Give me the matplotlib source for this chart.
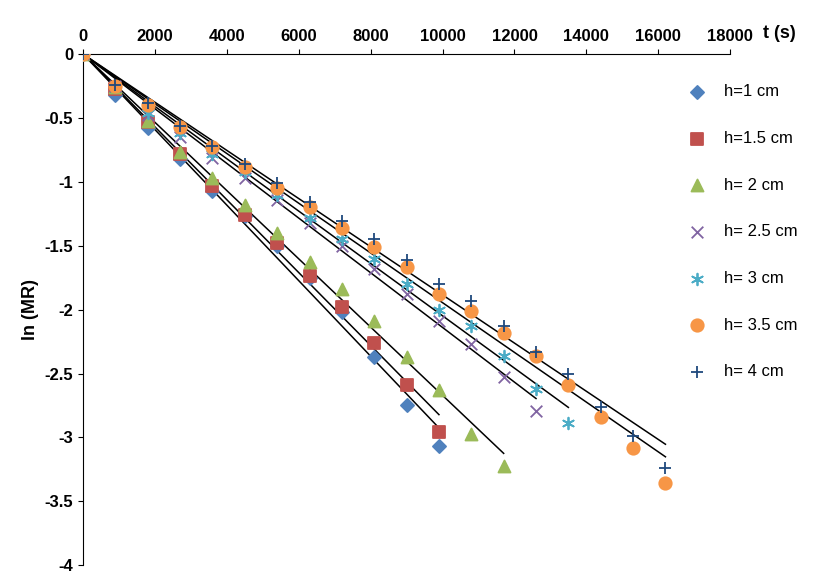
import numpy as np
import matplotlib
matplotlib.use('Agg')
import matplotlib.pyplot as plt

plt.rcParams['font.family'] = ['Liberation Sans', 'DejaVu Sans']

labels = ['h=1 cm', 'h=1.5 cm', 'h= 2 cm', 'h= 2.5 cm', 'h= 3 cm', 'h= 3.5 cm', 'h= 4 cm']
y_h1 = [0, -0.32, -0.58, -0.82, -1.07, -1.27, -1.50, -1.75, -2.02, -2.37, -2.75, -3.07]
y_h15 = [0, -0.27, -0.53, -0.78, -1.03, -1.26, -1.48, -1.74, -1.98, -2.26, -2.59, -2.96]
y_h2 = [0, -0.26, -0.52, -0.77, -0.97, -1.18, -1.40, -1.63, -1.84, -2.09, -2.37, -2.63, -2.97, -3.22]
y_h25 = [0, -0.25, -0.48, -0.65, -0.81, -0.97, -1.14, -1.32, -1.50, -1.68, -1.88, -2.09, -2.27,
         -2.53, -2.79]
y_h3 = [0, -0.25, -0.46, -0.62, -0.78, -0.92, -1.10, -1.28, -1.45, -1.60, -1.80, -2.00, -2.13,
        -2.36, -2.62, -2.89]
y_h35 = [0, -0.25, -0.40, -0.57, -0.73, -0.88, -1.05, -1.20, -1.36, -1.51, -1.67, -1.88, -2.01,
         -2.18, -2.36, -2.59, -2.84, -3.08, -3.36]
y_h4 = [0, -0.24, -0.38, -0.56, -0.72, -0.86, -1.01, -1.16, -1.31, -1.45, -1.61, -1.80, -1.93,
        -2.13, -2.33, -2.50, -2.76, -2.99, -3.24]
series = [y_h1, y_h15, y_h2, y_h25, y_h3, y_h35, y_h4]
dt = 900

colors = ['#4F81BD', '#C0504D', '#9BBB59', '#8064A2', '#4BACC6', '#F79646', '#1F497D']
markers = ['D', 's', '^', 'x', (6, 2, 0), 'o', '+']
sizes = [45, 80, 75, 70, 70, 80, 80]

fig = plt.figure(figsize=(8.14, 5.75), dpi=100)
ax = fig.add_axes([0.102, 0.017, 0.795, 0.889])

for y, lab, c, m, s in zip(series, labels, colors, markers, sizes):
    t = np.arange(len(y)) * dt
    ax.scatter(t, y, marker=m, s=s, color=c, label=lab, zorder=3, linewidths=1.3)
    k = np.sum(t * np.array(y)) / np.sum(t * t)
    ax.plot([0, t[-1]], [0, k * t[-1]], color='black', lw=1.1, zorder=2)

ax.set_xlim(0, 18000)
ax.set_ylim(-4, 0)
ax.set_xticks(np.arange(0, 18001, 2000))
ax.set_yticks(np.arange(-4, 0.01, 0.5))
ax.set_yticklabels(['-4', '-3.5', '-3', '-2.5', '-2', '-1.5', '-1', '-0.5', '0'])
ax.xaxis.tick_top()
ax.spines['right'].set_visible(False)
ax.spines['bottom'].set_visible(False)
ax.tick_params(labelsize=12, direction='out')
for lbl in ax.get_xticklabels() + ax.get_yticklabels():
    lbl.set_fontweight('bold')
ax.set_ylabel('ln (MR)', fontsize=13, fontweight='bold')
ax.text(1.05, 1.04, 't (s)', transform=ax.transAxes, fontsize=13, fontweight='bold',
        ha='left', va='center')

ax.legend(loc='upper left', bbox_to_anchor=(0.9, 0.97), frameon=False, fontsize=12,
          labelspacing=1.9, handletextpad=0.6)

fig.savefig('out.png', dpi=100)
plt.close()
